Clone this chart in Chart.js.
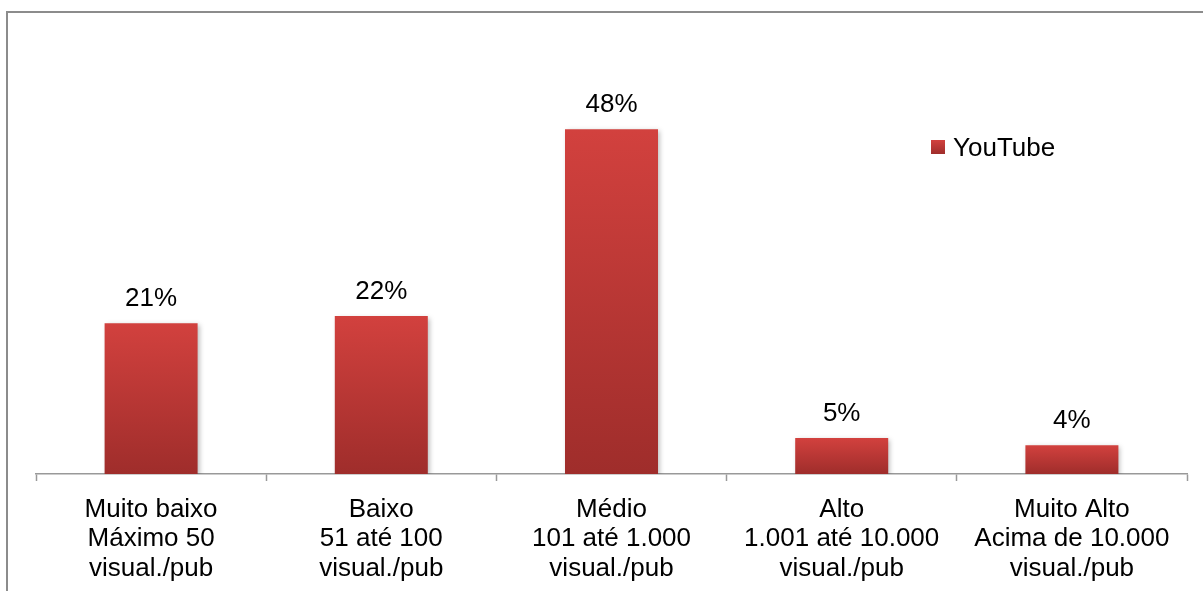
<!DOCTYPE html>
<html>
<head>
<meta charset="utf-8">
<script src="https://cdn.jsdelivr.net/npm/chart.js@4.4.1/dist/chart.umd.min.js"></script>
<style>
  html, body { margin: 0; padding: 0; background: #fff; overflow: hidden; }
  #wrap { position: relative; width: 1203px; height: 591px; }
  #frame { position: absolute; left: 6px; top: 11px; width: 1400px; height: 800px;
           border-left: 2px solid #8c8c8c; border-top: 2px solid #8c8c8c; box-sizing: border-box; }
  canvas { position: absolute; left: 0; top: 0; }
</style>
</head>
<body>
<div id="wrap">
  <div id="frame"></div>
  <canvas id="c" width="1203" height="591"></canvas>
</div>
<script>
const categories = [
  ['Muito baixo', 'Máximo 50', 'visual./pub'],
  ['Baixo', '51 até 100', 'visual./pub'],
  ['Médio', '101 até 1.000', 'visual./pub'],
  ['Alto', '1.001 até 10.000', 'visual./pub'],
  ['Muito Alto', 'Acima de 10.000', 'visual./pub']
];
const seriesName = 'YouTube';
const youtubeShare = [0.21, 0.22, 0.48, 0.05, 0.04];
const yMax = 0.6;

const FONT = '"Liberation Sans", Arial, sans-serif';
const FONT_SIZE = 26;
const TOP_COLOR = '#d2413e';
const BOTTOM_COLOR = '#9f2d2b';

// vertical gradient per bar, light at the top and darker at the base
function barFill(ctx) {
  const chart = ctx.chart;
  const y = chart.scales.y;
  if (!y || ctx.type !== 'data') return TOP_COLOR;
  const top = y.getPixelForValue(ctx.raw);
  const base = y.getPixelForValue(0);
  if (!isFinite(top) || !isFinite(base) || top === base) return TOP_COLOR;
  const g = chart.ctx.createLinearGradient(0, top, 0, base);
  g.addColorStop(0, TOP_COLOR);
  g.addColorStop(1, BOTTOM_COLOR);
  return g;
}

// soft drop shadow under the bars
const barShadow = {
  id: 'barShadow',
  beforeDatasetDraw(chart) {
    const c = chart.ctx;
    c.save();
    c.shadowColor = 'rgba(0,0,0,0.28)';
    c.shadowBlur = 5;
    c.shadowOffsetX = 2;
    c.shadowOffsetY = 2;
  },
  afterDatasetDraw(chart) { chart.ctx.restore(); }
};

// percentage labels above each bar
const valueLabels = {
  id: 'valueLabels',
  afterDatasetsDraw(chart) {
    const c = chart.ctx;
    const meta = chart.getDatasetMeta(0);
    c.save();
    c.font = FONT_SIZE + 'px ' + FONT;
    c.fillStyle = '#000';
    c.textAlign = 'center';
    c.textBaseline = 'alphabetic';
    meta.data.forEach((bar, i) => {
      const v = chart.data.datasets[0].data[i];
      c.fillText(Math.round(v * 100) + '%', bar.x, bar.y - 17);
    });
    c.restore();
  }
};

// legend entry inside the plot, on the right
const sideLegend = {
  id: 'sideLegend',
  afterDraw(chart) {
    const c = chart.ctx;
    const ds = chart.data.datasets[0];
    const x = 931, y = 140, s = 14;
    c.save();
    const g = c.createLinearGradient(0, y, 0, y + s);
    g.addColorStop(0, TOP_COLOR);
    g.addColorStop(1, BOTTOM_COLOR);
    c.fillStyle = g;
    c.fillRect(x, y, s, s);
    c.font = FONT_SIZE + 'px ' + FONT;
    c.fillStyle = '#000';
    c.textBaseline = 'alphabetic';
    c.textAlign = 'left';
    c.fillText(ds.label, x + 22, 156);
    c.restore();
  }
};

new Chart(document.getElementById('c'), {
  type: 'bar',
  data: {
    labels: categories,
    datasets: [{
      label: seriesName,
      data: youtubeShare,
      backgroundColor: barFill,
      borderWidth: 0,
      categoryPercentage: 1,
      barPercentage: 0.404
    }]
  },
  options: {
    responsive: false,
    animation: false,
    devicePixelRatio: 1,
    layout: { padding: { left: 36, right: 16, top: 43, bottom: 0 } },
    plugins: {
      legend: { display: false },
      tooltip: { enabled: false },
      title: { display: false }
    },
    scales: {
      x: {
        afterFit(scale) { scale.height = 117; },
        grid: {
          offset: true,
          drawOnChartArea: false,
          drawTicks: true,
          tickLength: 7,
          tickColor: '#999',
          tickWidth: 1.5
        },
        border: { display: true, color: '#999', width: 1.5 },
        ticks: {
          color: '#000',
          font: { family: FONT, size: FONT_SIZE, lineHeight: 1.13 },
          padding: 14,
          maxRotation: 0,
          autoSkip: false
        }
      },
      y: {
        display: false,
        min: 0,
        max: yMax
      }
    }
  },
  plugins: [barShadow, valueLabels, sideLegend]
});
</script>
</body>
</html>
